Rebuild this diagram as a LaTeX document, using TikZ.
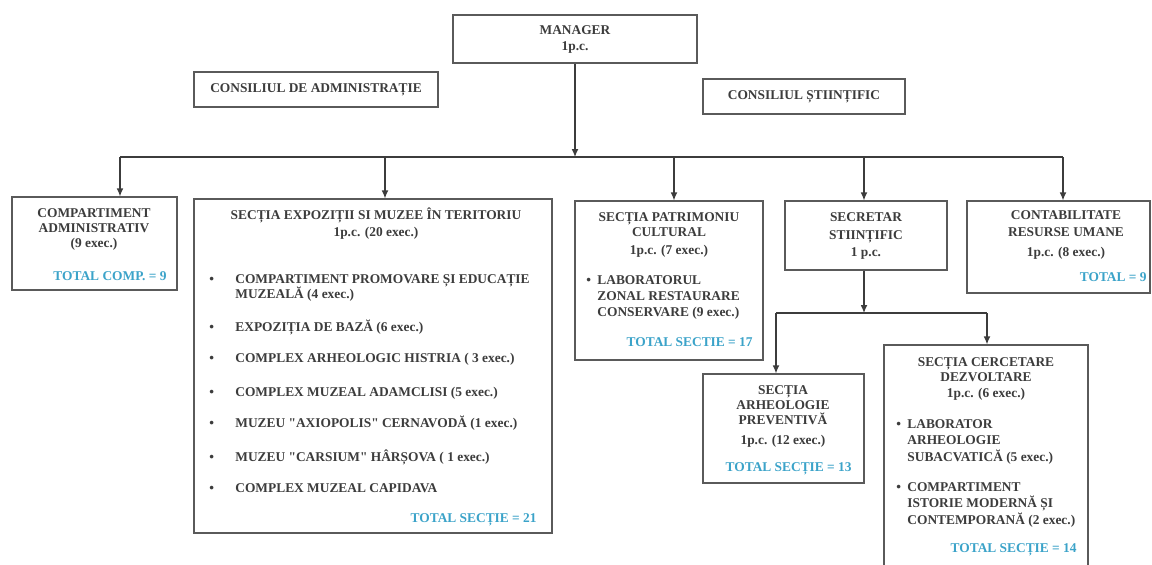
\documentclass[tikz,border=0pt]{standalone}
\usepackage{fontspec}
\setmainfont{Liberation Serif}
\usetikzlibrary{arrows.meta,calc}
\definecolor{inkgray}{HTML}{3C3C3C}
\definecolor{framegray}{HTML}{5A5A5A}
\definecolor{totalblue}{HTML}{3BA3C9}
\setlength{\lineskiplimit}{-20pt}
\tikzset{
  org font/.style={font=\fontsize{6.7}{7.5}\selectfont\bfseries},
  unit box/.style={draw=framegray, line width=0.6pt, inner sep=0pt,
        align=center, org font, text=inkgray},
  % multi-line texts sit on the baseline of their last line
  head/.style={anchor=base, align=center, inner sep=0pt, org font, text=inkgray},
  list/.style={anchor=base west, align=left, inner sep=0pt, org font, text=inkgray},
  total/.style={anchor=base east, inner sep=0pt, org font, text=totalblue},
  link/.style={draw=inkgray, line width=0.6pt},
  arr/.style={link, -{Latex[length=4pt,width=3.4pt]}}
}
\def\UnitBox#1#2#3#4#5{%
 \node[unit box, minimum width={(#4-#2)*0.5pt}, minimum height={(#5-#3)*0.5pt}]
   (#1) at ({(#2+#4)/2},{(#3+#5)/2}) {};}
\def\Itm#1{\makebox[#1][l]{\textbullet}}
\def\Q{\textquotedbl}

\begin{document}
\begin{tikzpicture}[x=0.5pt, y=-0.5pt]
\useasboundingbox (0,0) rectangle (1152,564);
\fill[white] (0,0) rectangle (1152,564);

% top level
\node[unit box, minimum width=122pt, minimum height=24pt] (manager) at (575,39)
  {MANAGER\\[0.5pt]1p.c.};
\node[unit box, minimum width=122pt, minimum height=17.5pt] (consadm) at (316,89.5)
  {CONSILIUL DE ADMINISTRAȚIE};
\node[unit box, minimum width=101pt, minimum height=17.5pt] (consst) at (804,96.5)
  {CONSILIUL ȘTIINȚIFIC};

% boxes
\UnitBox{adm}{12}{197}{177}{290}
\UnitBox{expo}{194}{199}{552}{533}
\UnitBox{patr}{575}{201}{763}{360}
\UnitBox{secr}{785}{201}{947}{270}
\UnitBox{cont}{967}{201}{1150}{293}
\UnitBox{prev}{703}{374}{864}{483}
\UnitBox{cerc}{884}{345}{1088}{580}

% texts
\node[head] (admhead) at (94,247.5) {COMPARTIMENT\\ADMINISTRATIV\\(9 exec.)};
\node[total] (admtotal) at (167,280.5) {TOTAL COMP. = 9};

\node[head] (expohead) at (376,236) {SECȚIA EXPOZIȚII SI MUZEE ÎN TERITORIU\\[1pt]1p.c. (20 exec.)};
\node[list] (expolist) at (209,492.5) {%
  \Itm{13pt}COMPARTIMENT PROMOVARE ȘI EDUCAȚIE\\
  \hspace*{13pt}MUZEALĂ (4 exec.)\\[9pt]
  \Itm{13pt}EXPOZIȚIA DE BAZĂ (6 exec.)\\[8pt]
  \Itm{13pt}COMPLEX ARHEOLOGIC HISTRIA ( 3 exec.)\\[9.5pt]
  \Itm{13pt}COMPLEX MUZEAL ADAMCLISI (5 exec.)\\[8pt]
  \Itm{13pt}MUZEU \Q AXIOPOLIS\Q{} CERNAVODĂ (1 exec.)\\[9.5pt]
  \Itm{13pt}MUZEU \Q CARSIUM\Q{} HÂRȘOVA ( 1 exec.)\\[8pt]
  \Itm{13pt}COMPLEX MUZEAL CAPIDAVA};
\node[total] (expototal) at (537,522.5) {TOTAL SECȚIE = 21};

\node[head] (patrhead) at (669,254.5) {SECȚIA PATRIMONIU\\CULTURAL\\[1.5pt]1p.c. (7 exec.)};
\node[list] (patrlist) at (586,316.5) {%
  \Itm{5.5pt}LABORATORUL\\[0.5pt]
  \hspace*{5.5pt}ZONAL RESTAURARE\\[0.5pt]
  \hspace*{5.5pt}CONSERVARE (9 exec.)};
\node[total] (patrtotal) at (753,346.5) {TOTAL SECTIE = 17};

\node[head] (secrhead) at (866,256) {SECRETAR\\[1.25pt]STIINȚIFIC\\[1pt]1 p.c.};

\node[head] (conthead) at (1066,256.5) {CONTABILITATE\\[1pt]RESURSE UMANE\\[2.5pt]1p.c. (8 exec.)};
\node[total] (conttotal) at (1147,281.5) {TOTAL = 9};

\node[head] (prevhead) at (783,444.5) {SECȚIA\\ARHEOLOGIE\\PREVENTIVĂ\\[2.5pt]1p.c. (12 exec.)};
\node[total] (prevtotal) at (852,471.5) {TOTAL SECȚIE = 13};

\node[head] (cerchead) at (986,397.5) {SECȚIA CERCETARE\\DEZVOLTARE\\[0.5pt]1p.c. (6 exec.)};
\node[list] (cerclist) at (896,524.5) {%
  \Itm{5.5pt}LABORATOR\\[0.5pt]
  \hspace*{5.5pt}ARHEOLOGIE\\[1pt]
  \hspace*{5.5pt}SUBACVATICĂ (5 exec.)\\[7.5pt]
  \Itm{5.5pt}COMPARTIMENT\\[0.5pt]
  \hspace*{5.5pt}ISTORIE MODERNĂ ȘI\\[1pt]
  \hspace*{5.5pt}CONTEMPORANĂ (2 exec.)};
\node[total] (cerctotal) at (1077,552.5) {TOTAL SECȚIE = 14};

% connectors
\coordinate (bus) at (0,157);
\coordinate (dropadm) at (120,157);
\coordinate (dropexpo) at (385,157);
\coordinate (droppatr) at (674,157);
\coordinate (dropsecr) at (864,157);
\coordinate (dropcont) at (1063,157);
\draw[link] (dropadm) -- (dropcont);
\draw[arr] (manager.south) -- (manager.south |- bus);
\foreach \d/\b in {dropadm/adm, dropexpo/expo, droppatr/patr, dropsecr/secr, dropcont/cont}
  \draw[arr] (\d) -- (\d |- \b.north);

\coordinate (subbus) at (0,313);
\coordinate (dropprev) at (776,313);
\coordinate (dropcerc) at (987,313);
\draw[arr] (dropsecr |- secr.south) -- (dropsecr |- subbus);
\draw[link] (dropprev) -- (dropcerc);
\draw[arr] (dropprev) -- (dropprev |- prev.north);
\draw[arr] (dropcerc) -- (dropcerc |- cerc.north);
\end{tikzpicture}
\end{document}
